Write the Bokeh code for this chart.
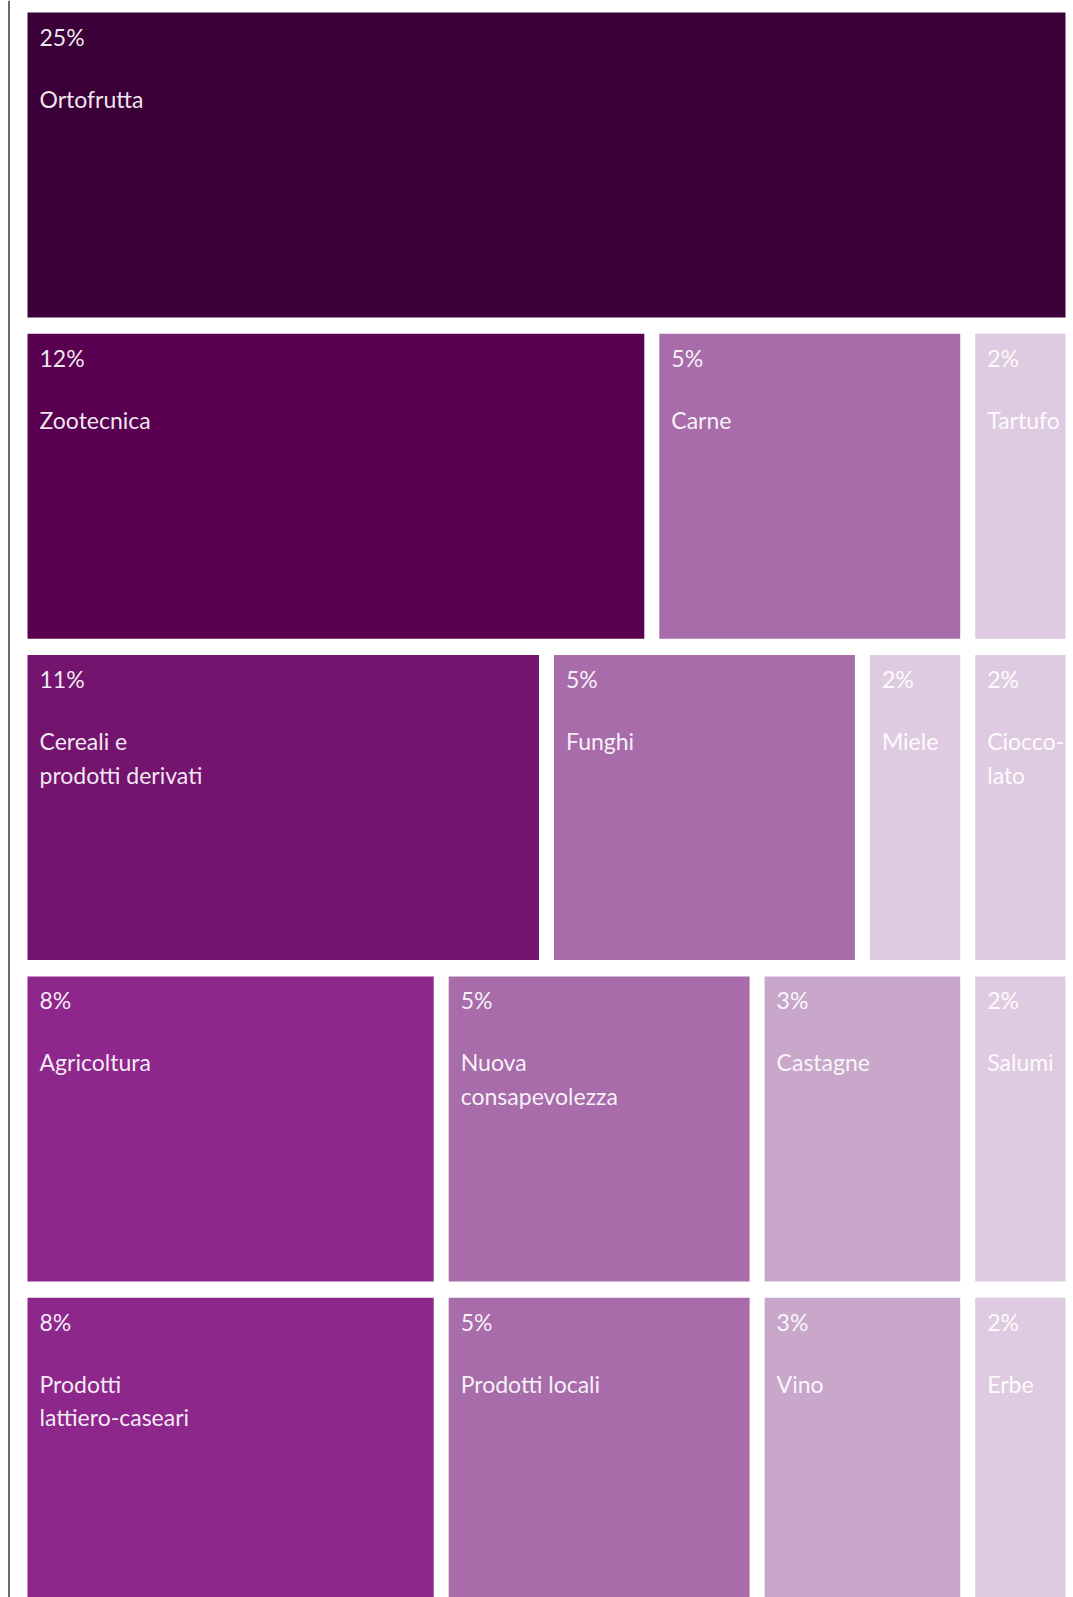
from bokeh.plotting import figure
from bokeh.models import ColumnDataSource, Range1d
from bokeh.embed import file_html
from bokeh.resources import INLINE
from bokeh.core.properties import value

# ---- data ----
labels = ["Ortofrutta",
          "Zootecnica", "Carne", "Tartufo",
          "Cereali e\nprodotti derivati", "Funghi", "Miele", "Ciocco-\nlato",
          "Agricoltura", "Nuova\nconsapevolezza", "Castagne", "Salumi",
          "Prodotti\nlattiero-caseari", "Prodotti locali", "Vino", "Erbe"]
shares = [25, 12, 5, 2, 11, 5, 2, 2, 8, 5, 3, 2, 8, 5, 3, 2]
# grid layout: row index and column span (10-column grid)
rows = [0, 1, 1, 1, 2, 2, 2, 2, 3, 3, 3, 3, 4, 4, 4, 4]
spans = [10, 6, 3, 1, 5, 3, 1, 1, 4, 3, 2, 1, 4, 3, 2, 1]

palette = {25: "#3c0039", 12: "#590050", 11: "#74146f", 8: "#8d278b",
           5: "#a86caa", 3: "#c8a7ca", 2: "#dfcbe1"}

W, H = 1073, 1597
X0, GRID_W, GAP = 27, 1038, 15
Y0, ROW_H, ROW_GAP = 12, 305, 16.3
unit = (GRID_W + GAP) / 10

left, right, top, bottom, colors = [], [], [], [], []
col_pos = {}
for r, s, v in zip(rows, spans, shares):
    c = col_pos.get(r, 0)
    l = X0 + c * unit
    left.append(l)
    right.append(l + s * unit - GAP)
    t = Y0 + r * (ROW_H + ROW_GAP)
    top.append(t)
    bottom.append(t + ROW_H)
    colors.append(palette[v])
    col_pos[r] = c + s

src = ColumnDataSource(dict(
    left=left, right=right, top=top, bottom=bottom, color=colors,
    pct=[f"{v}%" for v in shares], label=labels,
    tx=[l + 12 for l in left],
    ty_pct=[t + 10 for t in top],
    ty_lab=[t + 72 for t in top],
))

p = figure(width=W, height=H, output_backend="svg", toolbar_location=None,
           x_range=Range1d(0, W), y_range=Range1d(H, 0),
           min_border=0, outline_line_color=None)
p.axis.visible = False
p.grid.visible = False
p.background_fill_color = "white"
p.border_fill_color = "white"

p.quad(left="left", right="right", top="top", bottom="bottom",
       fill_color="color", line_color=None, source=src)

p.segment(x0=[8.5], y0=[0], x1=[8.5], y1=[H], line_color="#3a3a3a", line_width=1.5)

p.text(x="tx", y="ty_pct", text="pct", source=src, text_color="white",
       text_alpha=0.92, text_font=value("Lato"), text_font_size="23px",
       text_baseline="top", text_align="left")
p.text(x="tx", y="ty_lab", text="label", source=src, text_color="white",
       text_alpha=0.92, text_font=value("Lato"), text_font_size="23px",
       text_baseline="top", text_align="left", text_line_height=1.2)

open("out.html", "w").write(file_html(p, INLINE))
